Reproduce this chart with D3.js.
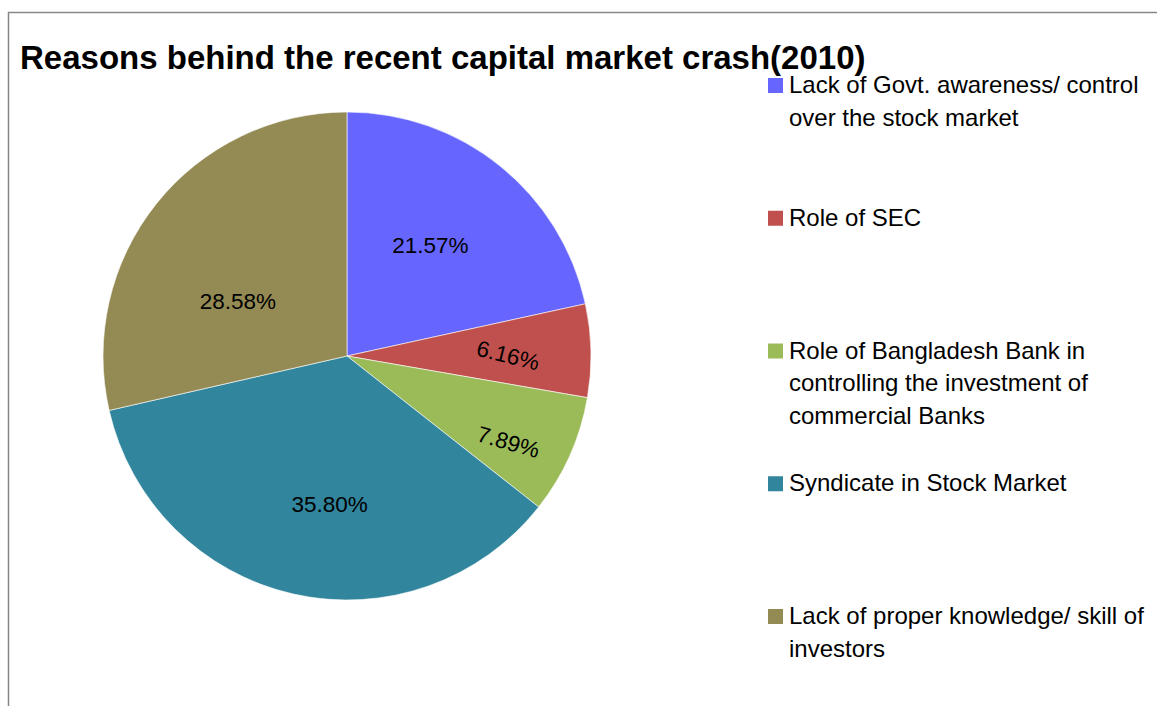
<!DOCTYPE html>
<html>
<head>
<meta charset="utf-8">
<style>
  body { margin: 0; background: #fff; }
  svg { display: block; }
</style>
</head>
<body>
<script src="https://d3js.org/d3.v7.min.js"></script>
<script>
// chart data
var categories = [
  "Lack of Govt. awareness/ control over the stock market",
  "Role of SEC",
  "Role of Bangladesh Bank in controlling the investment of commercial Banks",
  "Syndicate in Stock Market",
  "Lack of proper knowledge/ skill of investors"
];
var values = [21.57, 6.16, 7.89, 35.80, 28.58];
var valueLabels = ["21.57%", "6.16%", "7.89%", "35.80%", "28.58%"];
var colors = ["#6666FF", "#C0504D", "#9BBB59", "#31859C", "#948A54"];
var title = "Reasons behind the recent capital market crash(2010)";

var width = 1157, height = 706;
var font = "'Liberation Sans', Arial, sans-serif";

var svg = d3.select("body").append("svg")
  .attr("width", width)
  .attr("height", height);

// chart frame (clipped by the window on right/bottom)
svg.append("rect")
  .attr("x", 8.5).attr("y", 12.5)
  .attr("width", 1300).attr("height", 900)
  .attr("fill", "#fff")
  .attr("stroke", "#878787")
  .attr("stroke-width", 1.5);

var cx = 347, cy = 356, radius = 244;

var pie = d3.pie().sort(null).value(function(d) { return d; });
var arcs = pie(values);

var arc = d3.arc().innerRadius(0).outerRadius(radius);

var g = svg.append("g")
  .attr("transform", "translate(" + cx + "," + cy + ")");

g.selectAll("path.slice")
  .data(arcs)
  .enter().append("path")
  .attr("class", "slice")
  .attr("d", arc)
  .attr("fill", function(d, i) { return colors[i]; })
  .attr("stroke", "#fff")
  .attr("stroke-width", 0.6);

// label placement tweaks (radius fraction, angle shift in degrees, rotation)
var labelTweak = [
  { f: 0.57, da: -2, rot: 0 },
  { f: 0.66, da: 1, rot: 14 },
  { f: 0.75, da: 4, rot: 16 },
  { f: 0.61, da: -6, rot: 0 },
  { f: 0.50, da: -12, rot: 0 }
];

g.selectAll("text.lbl")
  .data(arcs)
  .enter().append("text")
  .attr("class", "lbl")
  .attr("transform", function(d, i) {
    var t = labelTweak[i];
    var a = (d.startAngle + d.endAngle) / 2 + t.da * Math.PI / 180;
    var r = radius * t.f;
    var x = Math.sin(a) * r, y = -Math.cos(a) * r;
    return "translate(" + x + "," + y + ") rotate(" + t.rot + ")";
  })
  .attr("text-anchor", "middle")
  .attr("dy", "0.35em")
  .style("font-family", font)
  .style("font-size", "22.5px")
  .attr("fill", "#000")
  .text(function(d, i) { return valueLabels[i]; });

// title
svg.append("text")
  .attr("x", 20).attr("y", 69)
  .style("font-family", font)
  .style("font-size", "33px")
  .style("font-weight", "bold")
  .attr("fill", "#000")
  .text(title);

// legend
var legendX = 768, legendTop = 78, legendStep = 132.75, lineH = 32.5, maxW = 375;
var legend = svg.append("g");

categories.forEach(function(name, i) {
  var y0 = legendTop + i * legendStep;
  legend.append("rect")
    .attr("x", legendX).attr("y", y0)
    .attr("width", 15).attr("height", 15)
    .attr("fill", colors[i]);

  var txt = legend.append("text")
    .style("font-family", font)
    .style("font-size", "24px")
    .attr("fill", "#000");

  // wrap words into lines
  var words = name.split(" ");
  var lines = [], cur = "";
  var probe = txt.append("tspan");
  words.forEach(function(w) {
    var test = cur ? cur + " " + w : w;
    probe.text(test);
    if (probe.node().getComputedTextLength() > maxW && cur) {
      lines.push(cur);
      cur = w;
    } else {
      cur = test;
    }
  });
  lines.push(cur);
  probe.remove();

  lines.forEach(function(l, j) {
    txt.append("tspan")
      .attr("x", legendX + 21)
      .attr("y", y0 + 15 + j * lineH)
      .text(l);
  });
});
</script>
</body>
</html>
